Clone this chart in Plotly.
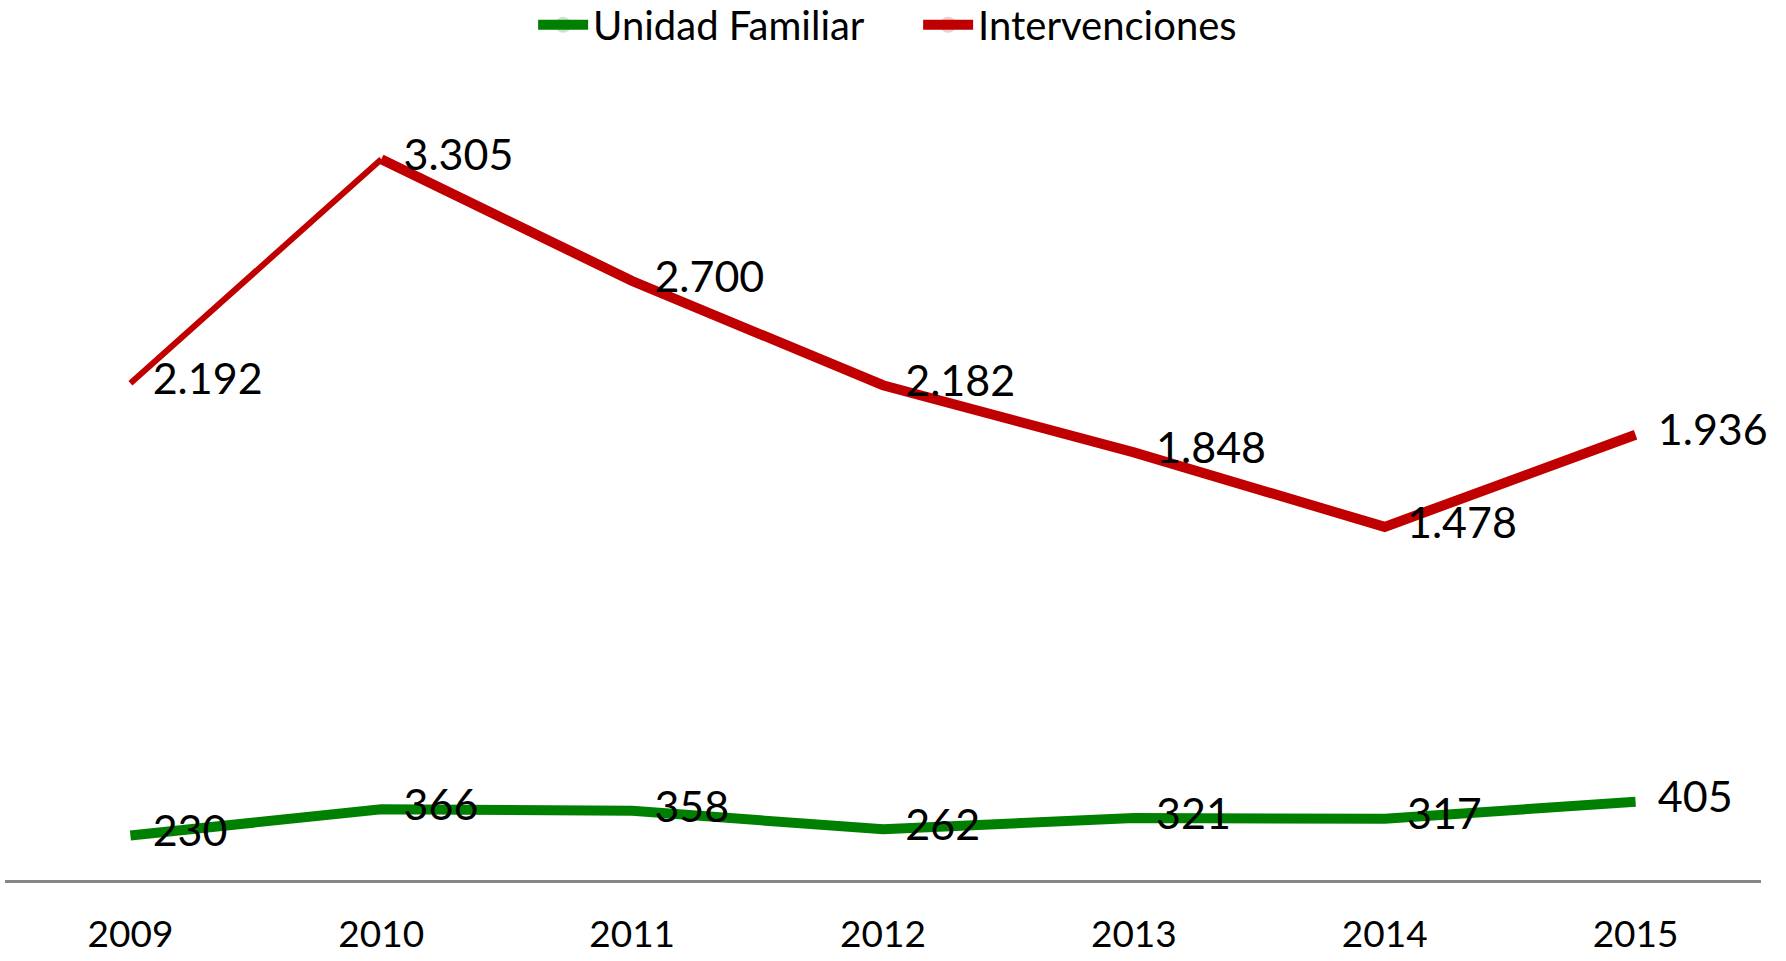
import plotly.graph_objects as go

years = ["2009", "2010", "2011", "2012", "2013", "2014", "2015"]
unidad_familiar = [230, 366, 358, 262, 321, 317, 405]
intervenciones = [2192, 3305, 2700, 2182, 1848, 1478, 1936]


def fmt(v):
    # thousands separator as a dot
    return f"{v:,}".replace(",", ".")


GREEN = "#008000"
RED = "#C00000"
FONT = "Lato"
LABEL_SIZE = 43

fig = go.Figure()

fig.add_trace(go.Scatter(
    x=years, y=unidad_familiar, name="Unidad Familiar",
    mode="lines+markers+text",
    line=dict(color=GREEN, width=10),
    marker=dict(size=34, opacity=0),
    text=[fmt(v) for v in unidad_familiar],
    textposition="middle right",
    textfont=dict(family=FONT, size=LABEL_SIZE, color="black"),
    cliponaxis=False, yaxis="y",
))

# first segment of Intervenciones is drawn thinner
fig.add_trace(go.Scatter(
    x=years[:2], y=intervenciones[:2], showlegend=False,
    mode="lines+markers+text",
    line=dict(color=RED, width=6),
    marker=dict(size=34, opacity=0),
    text=[fmt(intervenciones[0]), ""],
    textposition="middle right",
    textfont=dict(family=FONT, size=LABEL_SIZE, color="black"),
    cliponaxis=False, yaxis="y2",
))

fig.add_trace(go.Scatter(
    x=years[1:], y=intervenciones[1:], name="Intervenciones",
    mode="lines+markers+text",
    line=dict(color=RED, width=10),
    marker=dict(size=34, opacity=0),
    text=[fmt(v) for v in intervenciones[1:]],
    textposition="middle right",
    textfont=dict(family=FONT, size=LABEL_SIZE, color="black"),
    cliponaxis=False, yaxis="y2",
))

fig.update_layout(
    width=1786, height=961,
    margin=dict(l=5, r=25, t=80, b=81, autoexpand=False),
    paper_bgcolor="white", plot_bgcolor="white",
    font=dict(family=FONT, color="black"),
    showlegend=True,
    legend=dict(
        orientation="h", x=0.52, xanchor="center",
        y=1.069, yanchor="middle",
        font=dict(family=FONT, size=40, color="black"),
        itemwidth=50, traceorder="normal",
        entrywidth=320, entrywidthmode="pixels",
    ),
    xaxis=dict(
        type="category", range=[-0.5, 6.5],
        showline=True, linecolor="#868686", linewidth=3,
        showgrid=False, zeroline=False, ticks="",
        tickfont=dict(family=FONT, size=37, color="black"),
        ticklabelstandoff=20,
    ),
    yaxis=dict(range=[0, 4139], visible=False, showgrid=False, zeroline=False),
    yaxis2=dict(range=[-277, 3699], overlaying="y", visible=False,
                showgrid=False, zeroline=False),
)

fig.write_html("out.html")
